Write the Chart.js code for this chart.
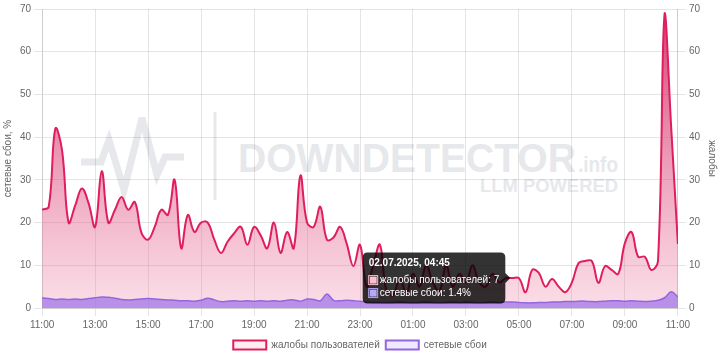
<!DOCTYPE html>
<html>
<head>
<meta charset="utf-8">
<script src="https://cdn.jsdelivr.net/npm/chart.js@4.4.1/dist/chart.umd.min.js"></script>
<style>
html, body { margin: 0; padding: 0; background: #fff; }
#wrap { position: relative; width: 720px; height: 360px; }
#wm { position: absolute; left: 0; top: 0; }
#canvas { position: relative; }
</style>
</head>
<body>
<div id="wrap">
<svg id="wm" width="720" height="360">
  <polyline points="81,162 101,162 109,140 124,190 142,118 157,175 165,157 184,157" fill="none" stroke="#e6e8eb" stroke-width="7"/>
  <line x1="215" y1="112" x2="215" y2="200" stroke="#e6e8eb" stroke-width="3"/>
  <g font-family="'Liberation Sans', Arial, sans-serif" font-weight="bold" fill="#e6e8eb">
    <text x="238" y="172" font-size="41" textLength="338" lengthAdjust="spacingAndGlyphs">DOWNDETECTOR</text>
    <text x="578" y="172" font-size="22" textLength="40" lengthAdjust="spacingAndGlyphs">.info</text>
    <text x="480" y="192" font-size="19" textLength="138" lengthAdjust="spacingAndGlyphs">LLM POWERED</text>
  </g>
</svg>
<canvas id="canvas" width="720" height="360"></canvas>
</div>
<script>
// minutes from 01.07.2025 11:00, every 15 min
var times = [];
for (var m = 0; m <= 1440; m += 15) times.push(m);

var complaints = [23, 23.7, 42, 37, 20, 24, 28, 24.6, 19, 32,
    20, 23, 26, 23, 24.8, 17.6, 16, 19, 23, 21.8,
    30, 14, 21.8, 17.8, 20, 20, 16, 12.9, 15.5, 17.5,
    19, 14.8, 19, 17, 14, 20, 12.9, 17.8, 14, 31,
    20, 19, 23.7, 16, 16.5, 19, 15, 9.8, 14.8, 5,
    10, 14.8, 4, 3, 7, 3.5, 8, 5, 10, 6,
    4, 10, 5, 8, 6, 10, 6, 5, 8, 6,
    7, 7, 7, 3.7, 8.9, 8.2, 5, 6.8, 5, 3.7,
    6, 10.5, 11, 11, 5.9, 9.8, 8.9, 8, 15.2, 17.8,
    12, 12, 8.9, 11, 69, 42, 15];

var outages = [2.4, 2.2, 2.0, 2.1, 2.0, 2.1, 2.0, 2.2, 2.4, 2.6,
    2.5, 2.3, 2.0, 1.9, 2.0, 2.1, 2.2, 2.1, 2.0, 1.9,
    1.8, 1.7, 1.7, 1.6, 1.8, 2.3, 1.9, 1.5, 1.6, 1.7,
    1.6, 1.7, 1.6, 1.7, 1.6, 1.7, 1.6, 1.8, 1.9, 1.6,
    2.1, 2.0, 1.7, 3.3, 1.8, 1.7, 1.8, 1.7, 1.6, 1.4,
    1.3, 1.3, 1.2, 1.3, 1.4, 1.3, 1.2, 1.3, 1.4, 1.3,
    1.2, 1.3, 1.4, 1.3, 1.4, 1.3, 1.2, 1.3, 1.4, 1.3,
    1.4, 1.4, 1.3, 1.2, 1.2, 1.3, 1.3, 1.4, 1.4, 1.5,
    1.5, 1.6, 1.6, 1.5, 1.5, 1.6, 1.7, 1.7, 1.6, 1.7,
    1.6, 1.5, 1.6, 1.8, 2.4, 3.8, 2.6];

var xTickLabels = ['11:00', '13:00', '15:00', '17:00', '19:00', '21:00', '23:00',
    '01:00', '03:00', '05:00', '07:00', '09:00', '11:00'];
var yTicks = [0, 10, 20, 30, 40, 50, 60, 70];
var activeIndex = 71; // 02.07.2025, 04:45

var legendFill = ['#eee9fe', '#fdeef3'];
var boxColors = ['#b5a9f7', '#f9c0d0'];

function toPoints(vals) {
    return vals.map(function (v, i) { return {x: times[i], y: v}; });
}
function timeText(min) {
    var t = (660 + min) % 1440;
    var h = Math.floor(t / 60), mm = t % 60;
    return (h < 10 ? '0' : '') + h + ':' + (mm < 10 ? '0' : '') + mm;
}

Chart.defaults.font.family = "'Liberation Sans', Arial, sans-serif";
Chart.defaults.font.size = 10;
Chart.defaults.color = '#666';

var ctx = document.getElementById('canvas').getContext('2d');
var myChart = new Chart(ctx, {
    type: 'line',
    data: {
        datasets: [{
            label: 'сетевые сбои',
            data: toPoints(outages),
            yAxisID: 'yL',
            borderColor: '#9466dd',
            borderWidth: 1.5,
            backgroundColor: 'rgba(160,115,232,0.72)',
            fill: 'origin',
            tension: 0.4,
            pointRadius: 0,
            pointHoverRadius: 0
        }, {
            label: 'жалобы пользователей',
            data: toPoints(complaints),
            yAxisID: 'yR',
            borderColor: '#e01e5c',
            borderWidth: 2,
            backgroundColor: function (c) {
                var area = c.chart.chartArea;
                if (!area) return 'rgba(230,110,150,0.5)';
                var g = c.chart.ctx.createLinearGradient(0, area.top, 0, area.bottom);
                g.addColorStop(0, 'rgba(208,40,100,0.9)');
                g.addColorStop(1, 'rgba(235,120,160,0.25)');
                return g;
            },
            fill: 'origin',
            tension: 0.4,
            pointRadius: 0,
            pointHoverRadius: 0
        }]
    },
    options: {
        responsive: false,
        animation: false,
        layout: { padding: { top: 3, bottom: 0 } },
        interaction: { mode: 'index', intersect: false },
        scales: {
            x: {
                type: 'linear',
                min: 0,
                max: 1440,
                ticks: {
                    stepSize: 120,
                    autoSkip: false,
                    maxRotation: 0,
                    callback: function (v) { return xTickLabels[v / 120]; }
                },
                grid: { color: 'rgba(0,0,0,0.1)' }
            },
            yL: {
                position: 'left',
                min: 0,
                max: 70,
                afterBuildTicks: function (axis) { axis.ticks = yTicks.map(function (v) { return {value: v}; }); },
                title: { display: true, text: 'сетевые сбои, %', padding: { top: 2, bottom: 3 } },
                grid: { color: 'rgba(0,0,0,0.1)' }
            },
            yR: {
                position: 'right',
                min: 0,
                max: 70,
                afterBuildTicks: function (axis) { axis.ticks = yTicks.map(function (v) { return {value: v}; }); },
                title: { display: true, text: 'жалобы', padding: { top: 2, bottom: 3 } },
                grid: { drawOnChartArea: false, color: 'rgba(0,0,0,0.1)' }
            }
        },
        plugins: {
            legend: {
                position: 'bottom',
                reverse: true,
                labels: {
                    boxWidth: 33,
                    boxHeight: 9,
                    padding: 6,
                    generateLabels: function (chart) {
                        var items = Chart.defaults.plugins.legend.labels.generateLabels(chart);
                        items.forEach(function (it) {
                            it.fillStyle = legendFill[it.datasetIndex];
                            it.lineWidth = 2;
                        });
                        return items;
                    }
                }
            },
            tooltip: {
                position: 'nearest',
                backgroundColor: 'rgba(0,0,0,0.8)',
                padding: { x: 6, y: 4 },
                titleFont: { size: 10, weight: 'bold', lineHeight: 1.3 },
                bodyFont: { size: 10, lineHeight: 1.3 },
                titleMarginBottom: 4,
                bodySpacing: 0,
                boxWidth: 9,
                boxHeight: 9,
                cornerRadius: 5,
                itemSort: function (a, b) { return b.datasetIndex - a.datasetIndex; },
                callbacks: {
                    title: function (items) {
                        var min = items[0].parsed.x;
                        var day = (660 + min) >= 1440 ? '02.07.2025' : '01.07.2025';
                        return day + ', ' + timeText(min);
                    },
                    label: function (item) {
                        if (item.datasetIndex === 0) return 'сетевые сбои: ' + item.parsed.y + '%';
                        return 'жалобы пользователей: ' + item.parsed.y;
                    },
                    labelColor: function (item) {
                        return { borderColor: boxColors[item.datasetIndex], backgroundColor: boxColors[item.datasetIndex], borderWidth: 0 };
                    }
                },
                multiKeyBackground: 'rgba(0,0,0,0)'
            }
        }
    }
});

var px = myChart.scales.x.getPixelForValue(times[activeIndex]);
var py = myChart.scales.yR.getPixelForValue(complaints[activeIndex]);
myChart.tooltip.setActiveElements([
    {datasetIndex: 1, index: activeIndex},
    {datasetIndex: 0, index: activeIndex}
], {x: px, y: py});
myChart.update();
</script>
</body>
</html>
